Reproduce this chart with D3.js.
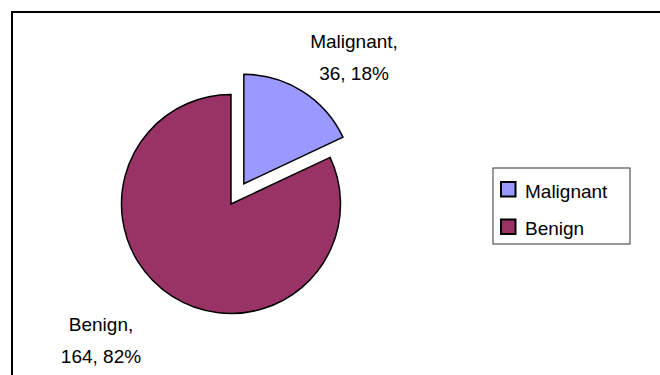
<!DOCTYPE html>
<html>
<head>
<meta charset="utf-8">
<script src="https://cdn.jsdelivr.net/npm/d3@7"></script>
<style>
  body { margin: 0; background: #fff; }
  text { font-family: "Liberation Sans", Arial, sans-serif; fill: #000; }
</style>
</head>
<body>
<script>
// Chart data
const categories = ["Malignant", "Benign"];
const counts = [36, 164];
const colours = ["#9999ff", "#993366"];

// Display dimensions
const width = 660;
const height = 375;
const radius = 109.5;
const centre = [231, 204];
const explode = 24;

const svg = d3.select("body")
    .append("svg")
    .attr("width", width)
    .attr("height", height);

// Chart frame (right and bottom edges fall outside the picture)
svg.append("rect")
    .attr("x", 12)
    .attr("y", 12)
    .attr("width", 700)
    .attr("height", 400)
    .attr("fill", "none")
    .attr("stroke", "#000")
    .attr("stroke-width", 2);

const total = d3.sum(counts);
const data = categories.map((c, i) => ({ name: c, value: counts[i], colour: colours[i] }));

const pie = d3.pie()
    .sort(null)
    .value(d => d.value);

const arc = d3.arc()
    .innerRadius(0)
    .outerRadius(radius);

const arcs = pie(data);

// Pull the first slice out of the pie
function offset(d, i) {
    if (i !== 0) return [0, 0];
    const mid = (d.startAngle + d.endAngle) / 2;
    return [Math.sin(mid) * explode, -Math.cos(mid) * explode];
}

const g = svg.append("g")
    .attr("transform", `translate(${centre[0]},${centre[1]})`);

g.selectAll("path")
    .data(arcs)
    .enter()
    .append("path")
    .attr("transform", (d, i) => `translate(${offset(d, i)})`)
    .attr("d", arc)
    .attr("fill", d => d.data.colour)
    .attr("stroke", "#000")
    .attr("stroke-width", 1.5)
    .attr("stroke-linejoin", "miter");

// Data labels: name, then count and share
const labelPos = [[123, -156], [-130, 127]];
const labels = g.selectAll("text.label")
    .data(arcs)
    .enter()
    .append("text")
    .attr("class", "label")
    .attr("text-anchor", "middle")
    .style("font-size", "19px");

labels.append("tspan")
    .attr("x", (d, i) => labelPos[i][0])
    .attr("y", (d, i) => labelPos[i][1])
    .text(d => d.data.name + ",");

labels.append("tspan")
    .attr("x", (d, i) => labelPos[i][0])
    .attr("y", (d, i) => labelPos[i][1] + 32)
    .text(d => `${d.data.value}, ${Math.round(d.data.value / total * 100)}%`);

// Legend
const legend = svg.append("g")
    .attr("transform", "translate(493,168)");

legend.append("rect")
    .attr("width", 137)
    .attr("height", 76)
    .attr("fill", "#fff")
    .attr("stroke", "#333")
    .attr("stroke-width", 1);

const item = legend.selectAll("g.item")
    .data(data)
    .enter()
    .append("g")
    .attr("class", "item")
    .attr("transform", (d, i) => `translate(8,${14 + i * 37.5})`);

item.append("rect")
    .attr("width", 14.5)
    .attr("height", 14.5)
    .attr("fill", d => d.colour)
    .attr("stroke", "#000")
    .attr("stroke-width", 2);

item.append("text")
    .attr("x", 24)
    .attr("y", 15.5)
    .style("font-size", "19px")
    .text(d => d.name);
</script>
</body>
</html>
